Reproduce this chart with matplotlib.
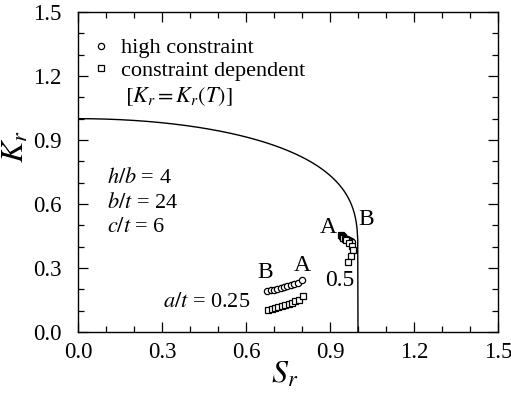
import matplotlib
matplotlib.use('Agg')
import matplotlib.pyplot as plt
import numpy as np
from matplotlib.ticker import MultipleLocator

plt.rcParams['font.family'] = ['Liberation Serif', 'DejaVu Serif']
plt.rcParams['mathtext.fontset'] = 'stix'

# a/t = 0.25 results
hc_025_sr = [0.675, 0.688, 0.700, 0.712, 0.724, 0.736, 0.748, 0.760, 0.772, 0.785, 0.800]
hc_025_kr = [0.192, 0.196, 0.199, 0.203, 0.207, 0.211, 0.215, 0.219, 0.224, 0.231, 0.243]
cd_025_sr = [0.680, 0.692, 0.704, 0.716, 0.728, 0.740, 0.752, 0.764, 0.776, 0.788, 0.802]
cd_025_kr = [0.105, 0.110, 0.114, 0.119, 0.123, 0.128, 0.133, 0.138, 0.144, 0.152, 0.170]

# a/t = 0.5 results
hc_05_sr = [0.945, 0.950, 0.956, 0.962, 0.968, 0.974, 0.978]
hc_05_kr = [0.445, 0.442, 0.438, 0.434, 0.430, 0.425, 0.420]
cd_05_sr = [0.940, 0.942, 0.945, 0.948, 0.952, 0.958, 0.968, 0.978, 0.982, 0.975, 0.966]
cd_05_kr = [0.455, 0.450, 0.446, 0.442, 0.437, 0.430, 0.418, 0.405, 0.385, 0.355, 0.328]

# strip-yield failure assessment curve, cut off at Sr = 1
sr = np.linspace(0.0, 0.999, 400)
kr = np.ones_like(sr)
nz = sr > 0
kr[nz] = sr[nz] * (8 / np.pi**2 * np.log(1 / np.cos(np.pi * sr[nz] / 2)))**-0.5
sr = np.append(sr, 1.0)
kr = np.append(kr, 0.0)

fig = plt.figure(figsize=(5.11, 3.98), dpi=100)
ax = fig.add_axes([78 / 511, 66 / 398, 420 / 511, 320 / 398])

ax.plot(sr, kr, color='k', lw=1.0)

ms_c, ms_s = 4.5, 4.0
ax.plot(hc_025_sr, hc_025_kr, 'o', mfc='white', mec='k', mew=0.9, ms=ms_c, label='high constraint')
ax.plot(cd_025_sr, cd_025_kr, 's', mfc='white', mec='k', mew=0.9, ms=ms_s, label='constraint dependent')
ax.plot(hc_05_sr, hc_05_kr, 'o', mfc='white', mec='k', mew=0.9, ms=ms_c)
ax.plot(cd_05_sr, cd_05_kr, 's', mfc='white', mec='k', mew=0.9, ms=ms_s)

ax.set_xlim(0, 1.5)
ax.set_ylim(0, 1.5)
for axis in (ax.xaxis, ax.yaxis):
    axis.set_major_locator(MultipleLocator(0.3))
    axis.set_minor_locator(MultipleLocator(0.1))
ax.xaxis.set_major_formatter(plt.FormatStrFormatter('%.1f'))
ax.yaxis.set_major_formatter(plt.FormatStrFormatter('%.1f'))
ax.tick_params(which='both', direction='in', top=True, right=True, labelsize=16.5)
ax.tick_params(axis='x', pad=7)
ax.tick_params(axis='y', pad=12)
ax.tick_params(which='major', length=7, width=0.9)
ax.tick_params(which='minor', length=4, width=0.9)
for s in ax.spines.values():
    s.set_linewidth(1.0)

ax.set_xlabel('$S_r$', fontsize=23)
ax.set_ylabel('$K_r$', fontsize=23)
ax.xaxis.set_label_coords(0.493, -0.09)
ax.yaxis.set_label_coords(-0.112, 0.58)

leg = ax.legend(loc='upper left', bbox_to_anchor=(-0.012, 0.975), frameon=False,
                fontsize=16, handlelength=0.9, handletextpad=0.45,
                labelspacing=0.1, borderaxespad=0.4)
ax.text(0.168, 1.105, '$[K_r = K_r(T)]$', fontsize=16, va='center')

ax.text(0.105, 0.72, '$h/b$ = 4', fontsize=16, va='center')
ax.text(0.105, 0.605, '$b/t$ = 24', fontsize=16, va='center')
ax.text(0.105, 0.49, '$c/t$ = 6', fontsize=16, va='center')

ax.text(0.46, 0.14, '$a/t$ = 0.25', fontsize=16, ha='center', va='center')
ax.text(0.668, 0.28, 'B', fontsize=17, ha='center', va='center')
ax.text(0.80, 0.31, 'A', fontsize=17, ha='center', va='center')
ax.text(0.893, 0.49, 'A', fontsize=17, ha='center', va='center')
ax.text(1.03, 0.525, 'B', fontsize=17, ha='center', va='center')
ax.text(0.936, 0.24, '0.5', fontsize=17, ha='center', va='center')

fig.savefig('out.png', dpi=100)
